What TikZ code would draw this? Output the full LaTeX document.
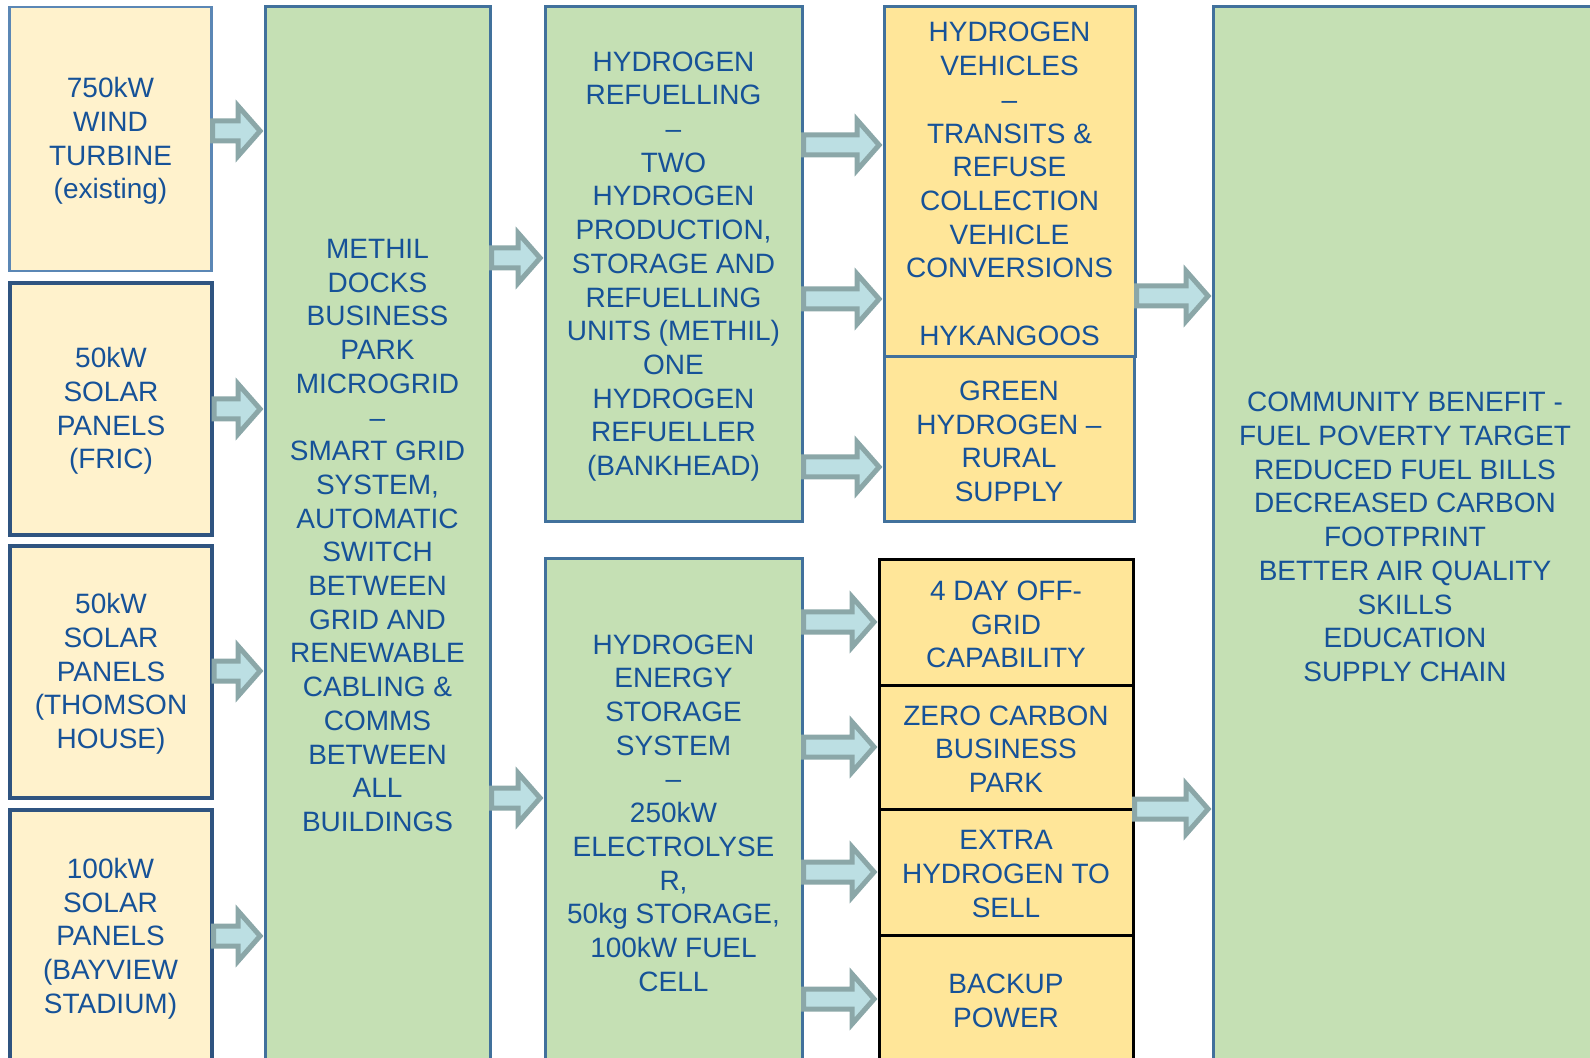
\documentclass[tikz,border=0pt]{standalone}
\usepackage{fontspec}
\setmainfont{Liberation Sans}
\usetikzlibrary{calc}
\definecolor{txtblue}{RGB}{22,82,152}
\definecolor{srcfill}{HTML}{FFF2CC}
\definecolor{srcedge}{HTML}{2F5480}
\definecolor{windedge}{HTML}{5B87B5}
\definecolor{hubfill}{HTML}{C5E0B4}
\definecolor{hubedge}{HTML}{41719C}
\definecolor{usefill}{HTML}{FFE699}
\definecolor{arrowfill}{HTML}{BCDFE3}
\definecolor{arrowedge}{HTML}{8BA7A8}
\tikzset{%
  box/.style={draw, line width=1.5pt, inner sep=0pt}, % all the boxes
  txt/.style={align=center, text=txtblue, inner sep=0pt, yshift=-1pt,
    font=\fontsize{14}{16.85}\selectfont}, % their texts
  srcbox/.style={box, fill=srcfill, draw=srcedge, line width=2pt, minimum width=101pt, minimum height=126pt},
  hubbox/.style={box, fill=hubfill, draw=hubedge},
  usebox/.style={box, fill=usefill, draw=hubedge},
  outbox/.style={box, fill=usefill, draw=black, minimum width=127pt},
  fatarrow/.style={draw=arrowedge, fill=arrowfill, line width=2.5pt,
    to path={let \p1=(\tikztostart), \p2=(\tikztotarget) in
      (\x1,\y1+5pt) -- (\x2-12.7pt,\y1+5pt) -- (\x2-12.7pt,\y1+12.5pt) -- (\x2-1.7pt,\y1)
      -- (\x2-12.7pt,\y1-12.5pt) -- (\x2-12.7pt,\y1-5pt) -- (\x1,\y1-5pt) -- cycle}}
}
\begin{document}
\begin{tikzpicture}[x=0.5pt, y=-0.5pt]
\useasboundingbox (0,0) rectangle (1590,1058);
\clip (0,0) rectangle (1590,1058);

% sources
\node[srcbox, draw=windedge, line width=1.2pt, minimum height=132pt,
  label={[txt]center:{750kW\\WIND\\TURBINE\\(existing)}}] (wind) at (110.5,139) {};
\node[srcbox, label={[txt]center:{50kW\\SOLAR\\PANELS\\(FRIC)}}] (fric) at (111,409) {};
\node[srcbox, label={[txt]center:{50kW\\SOLAR\\PANELS\\(THOMSON\\HOUSE)}}] (thom) at (111,672) {};
\node[srcbox, minimum height=126.5pt,
  label={[txt]center:{100kW\\SOLAR\\PANELS\\(BAYVIEW\\STADIUM)}}] (bay) at (110.5,936.5) {};

% microgrid
\node[hubbox, minimum width=112.5pt, minimum height=527.5pt,
  label={[txt, yshift=0.5pt]center:{METHIL\\DOCKS\\BUSINESS\\PARK\\MICROGRID\\–\\SMART GRID\\SYSTEM,\\AUTOMATIC\\SWITCH\\BETWEEN\\GRID AND\\RENEWABLE\\CABLING \&\\COMMS\\BETWEEN\\ALL\\BUILDINGS}}] (grid) at (377.5,534.5) {};

% hydrogen units
\node[hubbox, minimum width=128.5pt, minimum height=257.5pt,
  label={[txt]center:{HYDROGEN\\REFUELLING\\–\\TWO\\HYDROGEN\\PRODUCTION,\\STORAGE AND\\REFUELLING\\UNITS (METHIL)\\ONE\\HYDROGEN\\REFUELLER\\(BANKHEAD)}}] (refuel) at (673.5,264.5) {};
\node[hubbox, minimum width=128.5pt, minimum height=252pt,
  label={[txt]center:{HYDROGEN\\ENERGY\\STORAGE\\SYSTEM\\–\\250kW\\ELECTROLYSE\\R,\\50kg STORAGE,\\100kW FUEL\\CELL}}] (store) at (673.5,811) {};

% uses
\node[usebox, minimum width=125.5pt, minimum height=175pt,
  label={[txt]center:{HYDROGEN\\VEHICLES\\–\\TRANSITS \&\\REFUSE\\COLLECTION\\VEHICLE\\CONVERSIONS\\[16.85pt]HYKANGOOS}}] (vehic) at (1009.5,182) {};
\node[usebox, minimum width=125pt, minimum height=82.5pt,
  label={[txt]center:{GREEN\\HYDROGEN –\\RURAL\\SUPPLY}}] (rural) at (1009,439.5) {};
\node[outbox, minimum height=62.5pt, label={[txt]center:{4 DAY OFF-\\GRID\\CAPABILITY}}] (offgrid) at (1006,622.5) {};
\node[outbox, minimum height=62pt, label={[txt]center:{ZERO CARBON\\BUSINESS\\PARK}}] (zero) at (1006,747) {};
\node[outbox, minimum height=63pt, label={[txt]center:{EXTRA\\HYDROGEN TO\\SELL}}] (extra) at (1006,872) {};
\node[outbox, minimum height=64pt, label={[txt]center:{BACKUP\\POWER}}] (backup) at (1006,999) {};

% benefits
\node[hubbox, minimum width=192pt, minimum height=528pt,
  label={[txt]center:{COMMUNITY BENEFIT -\\FUEL POVERTY TARGET\\REDUCED FUEL BILLS\\DECREASED CARBON\\FOOTPRINT\\BETTER AIR QUALITY\\SKILLS\\EDUCATION\\SUPPLY CHAIN}}] (benefit) at (1405,535) {};

% block arrows
\draw[fatarrow] (wind.east |- 0,131) to (grid.west |- 0,131);
\draw[fatarrow] (fric.east |- 0,409) to (grid.west |- 0,409);
\draw[fatarrow] (thom.east |- 0,671) to (grid.west |- 0,671);
\draw[fatarrow] (bay.east |- 0,936) to (grid.west |- 0,936);
\draw[fatarrow] (grid.east |- 0,258) to (refuel.west |- 0,258);
\draw[fatarrow] (grid.east |- 0,798) to (store.west |- 0,798);
\draw[fatarrow] (refuel.east |- 0,145) to (vehic.west |- 0,145);
\draw[fatarrow] (refuel.east |- 0,299) to (vehic.west |- 0,299);
\draw[fatarrow] (refuel.east |- 0,467) to (rural.west |- 0,467);
\draw[fatarrow] (store.east |- 0,622) to (offgrid.west |- 0,622);
\draw[fatarrow] (store.east |- 0,747) to (zero.west |- 0,747);
\draw[fatarrow] (store.east |- 0,872) to (extra.west |- 0,872);
\draw[fatarrow] (store.east |- 0,999) to (backup.west |- 0,999);
\draw[fatarrow] (vehic.east |- 0,296) to (benefit.west |- 0,296);
\draw[fatarrow] (zero.east |- 0,809) to (benefit.west |- 0,809);
\end{tikzpicture}
\end{document}
